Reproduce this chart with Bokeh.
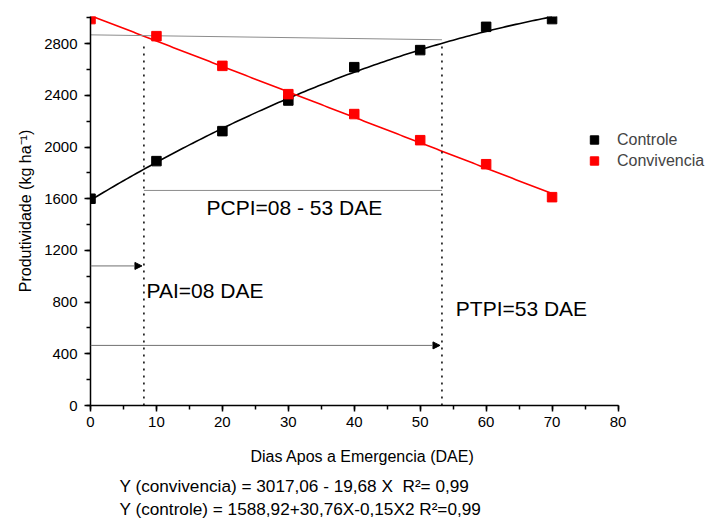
import numpy as np
from bokeh.plotting import figure
from bokeh.models import (Range1d, SingleIntervalTicker, Label, Arrow, NormalHead,
                          Legend, LegendItem, Title)
from bokeh.embed import file_html
from bokeh.resources import INLINE

# ---- data ----
days = [0, 10, 20, 30, 40, 50, 60, 70]
controle = [1600, 1891, 2123, 2360, 2618, 2750, 2930, 2990]
convivencia = [2990, 2858, 2628, 2409, 2255, 2053, 1867, 1612]

# regression coefficients printed under the chart
conv_coef = [3017.06, -19.68]            # a + b*x
ctrl_coef = [1588.92, 30.76, -0.15]      # a + b*x + c*x^2
fit_days = np.linspace(0, 70, 141)

pai = 8.1          # PAI = 08 DAE
ptpi = 53.3        # PTPI = 53 DAE
top_line_y = [2868, 2830]
pai_top = 2815
ptpi_top = 2805
pcpi_y = 1664
arrow1_y = 1080
arrow2_y = 465

x_axis_bounds = (0, 80)
x_ticks_interval = 10
y_ticks_interval = 400

x_title = "Dias Apos a Emergencia (DAE)"
y_title = "Produtividade (kg ha\u207b\u00b9)"
equations = ["Y (convivencia) = 3017,06 - 19,68 X\u00a0 R\u00b2= 0,99",
             "Y (controle) = 1588,92+30,76X-0,15X2 R\u00b2=0,99"]

FONT = "Liberation Sans"

FRAME_W = 616
X_END = x_axis_bounds[1] * FRAME_W / 527.5   # frame runs past the axis end (room for legend)

p = figure(width=706, height=518, x_range=Range1d(0, X_END), y_range=Range1d(0, 3010),
           output_backend="svg", toolbar_location=None,
           min_border_left=90, min_border_right=0, min_border_top=16, min_border_bottom=113)
p.outline_line_color = None
p.xgrid.visible = False
p.ygrid.visible = False
p.background_fill_color = "white"
p.border_fill_color = "white"

# fit lines
conv_fit = conv_coef[0] + conv_coef[1] * fit_days
ctrl_fit = ctrl_coef[0] + ctrl_coef[1] * fit_days + ctrl_coef[2] * fit_days ** 2
p.line(fit_days, ctrl_fit, line_color="black", line_width=1.6)
p.line(fit_days, conv_fit, line_color="#ff0000", line_width=1.6)

# guide lines
p.line([0, ptpi], top_line_y, line_color="#8c8c8c", line_width=1)
p.line([pai, pai], [0, pai_top], line_color="black", line_width=1.5, line_dash="2 5")
p.line([ptpi, ptpi], [0, ptpi_top], line_color="black", line_width=1.5, line_dash="2 5")
p.line([pai, ptpi], [pcpi_y, pcpi_y], line_color="#8c8c8c", line_width=1)

p.add_layout(Arrow(x_start=0, y_start=arrow1_y, x_end=pai - 0.3, y_end=arrow1_y,
                   line_color="#707070", line_width=1,
                   end=NormalHead(size=7, fill_color="black", line_color="black", line_width=1)))
p.add_layout(Arrow(x_start=0, y_start=arrow2_y, x_end=ptpi - 0.3, y_end=arrow2_y,
                   line_color="#707070", line_width=1,
                   end=NormalHead(size=7, fill_color="black", line_color="black", line_width=1)))

# markers
r_ctrl = p.scatter(days, controle, marker="square", size=9.5, fill_color="black", line_color="black")
r_conv = p.scatter(days, convivencia, marker="square", size=9.5, fill_color="#ff0000", line_color="#ff0000")

legend = Legend(items=[LegendItem(label="Controle", renderers=[r_ctrl]),
                       LegendItem(label="Convivencia", renderers=[r_conv])],
                location=(493, 234), padding=0, margin=0, spacing=0,
                glyph_width=22, glyph_height=21, label_height=21, label_standoff=12,
                label_text_font=FONT, label_text_font_size="16px",
                border_line_color=None, background_fill_alpha=0)
p.add_layout(legend)

# annotations
for txt, x, y in [("PCPI=08 - 53 DAE", 17.6, 1533), ("PAI=08 DAE", 8.5, 887),
                  ("PTPI=53 DAE", 55.4, 753)]:
    p.add_layout(Label(x=x, y=y, text=txt, text_font=FONT, text_font_size="21px",
                       text_baseline="middle", text_align="left", text_color="black"))

# axes
for ax in (p.xaxis[0], p.yaxis[0]):
    ax.axis_line_width = 1.5
    ax.axis_line_color = "black"
    ax.major_tick_line_width = 1.5
    ax.minor_tick_line_width = 1.5
    ax.major_tick_line_color = "black"
    ax.minor_tick_line_color = "black"
    ax.major_tick_in = 0
    ax.major_tick_out = 6
    ax.minor_tick_in = 0
    ax.minor_tick_out = 4
    ax.major_label_text_font = FONT
    ax.major_label_text_font_size = "15px"
    ax.major_label_text_color = "black"
    ax.axis_label_text_font = FONT
    ax.axis_label_text_font_size = "16px"
    ax.axis_label_text_font_style = "normal"
    ax.axis_label_text_color = "black"

p.xaxis.bounds = x_axis_bounds
p.xaxis.ticker = SingleIntervalTicker(interval=x_ticks_interval, num_minor_ticks=2)
p.yaxis.ticker = SingleIntervalTicker(interval=y_ticks_interval, num_minor_ticks=2)
p.yaxis.axis_label = y_title
p.xaxis.major_label_standoff = 5
p.yaxis.major_label_standoff = 7
p.yaxis.axis_label_standoff = 7

# spacer, x-axis title centred under the 0-80 axis, then the regression equations
p.add_layout(Title(text=" ", standoff=1, text_font=FONT, text_font_size="5px"), "below")
p.add_layout(Title(text=x_title, align="left", offset=160, standoff=15,
                   text_font=FONT, text_font_size="16px", text_font_style="normal",
                   text_color="black"), "below")
for eq, so in zip(equations, [2, 0]):
    p.add_layout(Title(text=eq, align="left", offset=29, standoff=so,
                       text_font=FONT, text_font_size="17.2px", text_font_style="normal",
                       text_color="black"), "below")

open("out.html", "w").write(file_html(p, INLINE))
